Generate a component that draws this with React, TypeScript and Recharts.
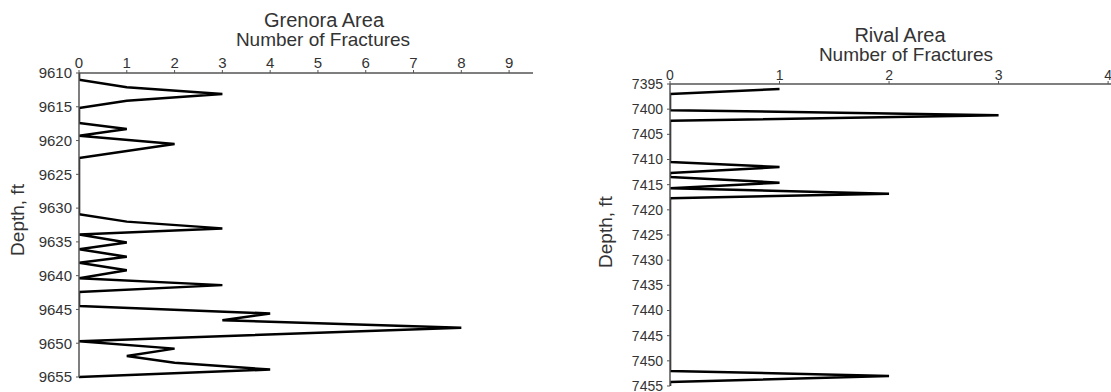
import React from 'react'
import { LineChart, Line, XAxis, YAxis } from 'recharts'

// Grenora Area: depth (ft) and number of fractures
const grenoraDepth = [
  9610, 9611.0, 9612.1, 9613.1, 9614.1, 9615.2, 9617.4, 9618.3, 9619.3, 9620.5, 9622.6,
  9630.9, 9632.0, 9633.0, 9633.9, 9635.1, 9636.1, 9637.2, 9638.1, 9639.2, 9640.4, 9641.4,
  9642.4, 9644.5, 9645.6, 9646.6, 9647.7, 9649.7, 9650.8, 9651.9, 9652.9, 9653.9, 9655.0,
]
const grenoraCount = [
  0, 0, 1, 3, 1, 0, 0, 1, 0, 2, 0,
  0, 1, 3, 0, 1, 0, 1, 0, 1, 0, 3,
  0, 0, 4, 3, 8, 0, 2, 1, 2, 4, 0,
]
const grenoraDepthTicks = [9610, 9615, 9620, 9625, 9630, 9635, 9640, 9645, 9650, 9655]
const grenoraCountTicks = [0, 1, 2, 3, 4, 5, 6, 7, 8, 9]

// Rival Area
const rivalDepth = [
  7396.0, 7397.0, 7400.2, 7401.2, 7402.3, 7410.5, 7411.5, 7412.7, 7413.5,
  7414.6, 7415.7, 7416.8, 7417.7, 7452.0, 7453.0, 7454.2, 7455,
]
const rivalCount = [1, 0, 0, 3, 0, 0, 1, 0, 0, 1, 0, 2, 0, 0, 2, 0, 0]
const rivalDepthTicks = [7395, 7400, 7405, 7410, 7415, 7420, 7425, 7430, 7435, 7440, 7445, 7450, 7455]
const rivalCountTicks = [0, 1, 2, 3, 4]

const font = '"Liberation Sans", Arial, sans-serif'
const axisStroke = '#555'
const textColor = '#333'

const toRows = (depth: number[], count: number[]) =>
  depth.map((d, i) => ({ depth: d, count: count[i] }))

interface LogProps {
  rows: { depth: number; count: number }[]
  width: number
  margin: { top: number; right: number; bottom: number; left: number }
  yWidth: number
  xDomain: [number, number]
  xTicks: number[]
  yDomain: [number, number]
  yTicks: number[]
  fontSize: number
  xTickMargin: number
}

function FractureLog({ rows, width, margin, yWidth, xDomain, xTicks, yDomain, yTicks, fontSize, xTickMargin }: LogProps) {
  return (
    <LineChart width={width} height={392} data={rows} layout="vertical" margin={margin}>
      <XAxis
        type="number"
        dataKey="count"
        orientation="top"
        domain={xDomain}
        ticks={xTicks}
        interval={0}
        height={30}
        tickSize={3}
        tickMargin={xTickMargin}
        allowDataOverflow
        axisLine={{ stroke: axisStroke, strokeWidth: 1.5 }}
        tickLine={{ stroke: axisStroke }}
        tick={{ fill: textColor, fontSize, fontFamily: font }}
      />
      <YAxis
        type="number"
        dataKey="depth"
        domain={yDomain}
        ticks={yTicks}
        interval={0}
        width={yWidth}
        tickSize={3}
        tickMargin={4}
        axisLine={{ stroke: axisStroke, strokeWidth: 1.5 }}
        tickLine={{ stroke: axisStroke }}
        tick={{ fill: textColor, fontSize, fontFamily: font }}
      />
      <Line
        type="linear"
        dataKey="count"
        stroke="#000"
        strokeWidth={2.5}
        dot={false}
        isAnimationActive={false}
      />
    </LineChart>
  )
}

export default function App() {
  return (
    <div style={{ position: 'absolute', left: 0, top: 0, width: 1111, height: 392, overflow: 'hidden', background: '#fff' }}>
      <div style={{ position: 'absolute', left: 0, top: 0 }}>
        <FractureLog
          rows={toRows(grenoraDepth, grenoraCount)}
          width={560}
          margin={{ top: 43, right: 27, bottom: 15, left: 0 }}
          yWidth={79}
          xDomain={[0, 9.5]}
          xTicks={grenoraCountTicks}
          yDomain={[9610, 9655]}
          yTicks={grenoraDepthTicks}
          fontSize={15}
          xTickMargin={2}
        />
      </div>
      <div style={{ position: 'absolute', left: 560, top: 0 }}>
        <FractureLog
          rows={toRows(rivalDepth, rivalCount)}
          width={570}
          margin={{ top: 54, right: 0, bottom: 6, left: 0 }}
          yWidth={110}
          xDomain={[0, 4.2]}
          xTicks={rivalCountTicks}
          yDomain={[7395, 7455]}
          yTicks={rivalDepthTicks}
          fontSize={14}
          xTickMargin={1}
        />
      </div>
      <svg width={1111} height={392} style={{ position: 'absolute', left: 0, top: 0, pointerEvents: 'none' }}>
        <g fontFamily={font} fill={textColor} textAnchor="middle">
          <text x={324} y={27} fontSize={20}>Grenora Area</text>
          <text x={323} y={46} fontSize={19}>Number of Fractures</text>
          <text x={24} y={220} fontSize={19} transform="rotate(-90 24 220)">Depth, ft</text>
          <text x={900} y={42} fontSize={20}>Rival Area</text>
          <text x={906} y={61} fontSize={19}>Number of Fractures</text>
          <text x={612} y={232} fontSize={19} transform="rotate(-90 612 232)">Depth, ft</text>
        </g>
      </svg>
    </div>
  )
}
